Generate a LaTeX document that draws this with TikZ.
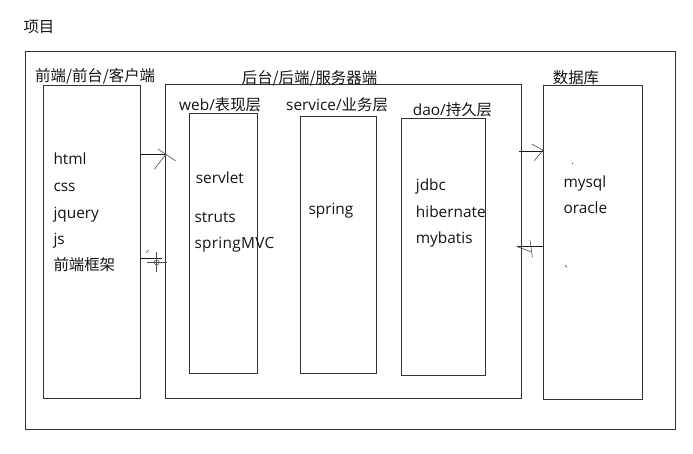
\documentclass[tikz,border=0pt]{standalone}
\usepackage{fontspec}
\setmainfont{Open Sans}
\newfontfamily\cjk{Noto Sans CJK SC}
\begin{document}
\begin{tikzpicture}[x=1pt,y=-1pt,
  box/.style={draw=black!80,line width=0.9pt,inner sep=0pt,anchor=north west},
  txt/.style={text=black!92,inner sep=0pt,anchor=base west,font=\fontsize{15.4}{18}\selectfont},
  ln/.style={draw=black!90,line width=0.7pt},
  hd/.style={draw=black!70,line width=0.6pt}]
\useasboundingbox (0,0) rectangle (693,454);
\fill[white] (0,0) rectangle (693,454);
% boxes
\node[box,minimum width=650pt,minimum height=377.5pt] (outer) at (25,51) {};
\node[box,minimum width=96.7pt,minimum height=312.5pt] (front) at (43.3,85.5) {};
\node[box,minimum width=355.5pt,minimum height=313.7pt] (back) at (165,84.3) {};
\node[box,minimum width=67.4pt,minimum height=260.3pt] (web) at (189.3,113) {};
\node[box,minimum width=76.5pt,minimum height=257pt] (service) at (299.8,115.7) {};
\node[box,minimum width=84.5pt,minimum height=257.6pt] (dao) at (400.5,117.7) {};
\node[box,minimum width=99pt,minimum height=314pt] (db) at (543,85) {};
% labels
\node[txt] (tproj) at (23.3,32.6) {\cjk 项目};
\node[txt] (tfront) at (35,82) {\cjk 前端/前台/客户端};
\node[txt] (tback) at (241.7,84) {\cjk 后台/后端/服务器端};
\node[txt] (tweb) at (179,110.5) {web/{\cjk 表现层}};
\node[txt] (tserv) at (286,110.5) {service/{\cjk 业务层}};
\node[txt] (tdao) at (412.7,116) {dao/{\cjk 持久层}};
\node[txt] (tdb) at (552.7,84) {\cjk 数据库};
% front content
\node[txt] (html) at (53.3,165) {html};
\node[txt] (css) at (53.3,191.6) {css};
\node[txt] (jq) at (53.3,218.2) {jquery};
\node[txt] (js) at (53.3,244.6) {js};
\node[txt] (fw) at (53.3,271) {\cjk 前端框架};
% web content
\node[txt] (servlet) at (195.7,183.3) {servlet};
\node[txt] (struts) at (194.3,222.3) {struts};
\node[txt] (smvc) at (194.3,248.3) {\addfontfeature{LetterSpace=2}springMVC};
% service
\node[txt] (spring) at (308.3,214.3) {spring};
% dao
\node[txt] (jdbc) at (415.7,190.7) {jdbc};
\node[txt] (hib) at (415.7,217.3) {hibernate};
\node[txt] (myb) at (415.7,243.3) {mybatis};
% db
\node[txt] (mysql) at (563.3,187.7) {mysql};
\node[txt] (oracle) at (563.3,214) {oracle};
% connectors
\coordinate (ya) at (0,154.3);
\coordinate (yb) at (0,258.3);
\coordinate (yc) at (0,151.7);
\coordinate (yd) at (0,246.7);
% front -> back
\draw[ln] (front.east |- ya) -- ([xshift=1pt]back.west |- ya) coordinate (tipa);
\draw[hd] (tipa) -- ++(-11.7,15);
\draw[hd] ([shift={(-7.7,-5)}]tipa) -- ([shift={(9.7,6.7)}]tipa);
% back -> front (lower)
\draw[ln] (front.east |- yb) -- ([xshift=-3pt]back.west |- yb) coordinate (endb);
\coordinate (cur) at (156.7,262.3);
\draw[hd,line width=0.5pt] (cur) circle (2.6pt);
\draw[hd,line width=0.5pt] ([yshift=-10pt]cur) -- ([yshift=10pt]cur);
\draw[hd,line width=0.5pt] ([xshift=-10pt]cur) -- ([xshift=10pt]cur);
\fill[black!80] (cur) circle (0.6pt);
\draw[hd,line width=0.5pt] (146,252.7) -- (148.7,250);
% back -> db
\draw[ln] ([xshift=-2pt]back.east |- yc) -- (db.west |- yc) coordinate (tipc);
\draw[hd] ([shift={(-11,-7.4)}]tipc) -- ([yshift=1.6pt]tipc) -- ([shift={(-8.7,9)}]tipc);
% db -> back
\draw[ln] (db.west |- yd) -- ([xshift=-4pt]back.east |- yd) coordinate (tipd);
\draw[hd] (tipd) -- ++(13.3,5);
\draw[hd] ([shift={(12.6,-6.7)}]tipd) -- ([shift={(15,10.6)}]tipd);
% tiny marks
\fill[black!70] (572.7,163.3) circle (0.7pt);
\draw[hd,line width=0.6pt] (565,265) -- (567,267.5);
\end{tikzpicture}
\end{document}
